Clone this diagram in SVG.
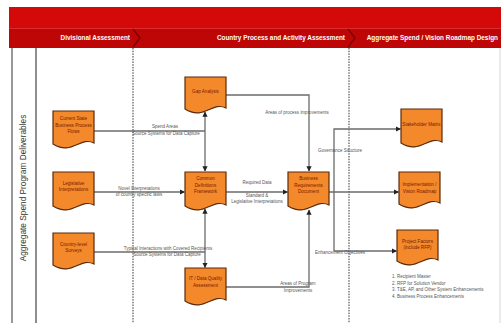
<svg xmlns="http://www.w3.org/2000/svg" width="501" height="323" viewBox="0 0 501 323">
<style>
.doc{fill:#F3892B;stroke:#5A2A0A;stroke-width:1.2}
.nt{font-family:"Liberation Sans",Arial,sans-serif;font-size:4.6px;fill:#7A1A00;text-anchor:middle}
.lb{font-family:"Liberation Sans",Arial,sans-serif;font-size:4.5px;fill:#555;text-anchor:middle}
.ls{font-family:"Liberation Sans",Arial,sans-serif;font-size:4.5px;fill:#555}
.hd{font-family:"Liberation Sans",Arial,sans-serif;font-size:6.4px;font-weight:bold;fill:#fff}
.cn{fill:none;stroke:#6b6b6b;stroke-width:1.3}
.dot{stroke:#333;stroke-width:1;stroke-dasharray:1.5 1.2}
</style>
<defs>
<marker id="ah" viewBox="0 0 10 10" refX="9" refY="5" markerWidth="4" markerHeight="4" orient="auto-start-reverse">
<path d="M0,0 L10,5 L0,10 z" fill="#222"/>
</marker>
</defs>
<rect width="501" height="323" fill="#fff"/>
<g id="header">
<rect x="9" y="7" width="492" height="21" fill="#D40A0A"/>
<rect x="9" y="28" width="492" height="20" fill="#BE0606"/>
<line x1="9" y1="28.5" x2="501" y2="28.5" stroke="#E23A3A" stroke-width="0.8"/>
<polyline points="133,29 140,38 133,47" fill="none" stroke="#7E0000" stroke-width="1.4"/>
<polyline points="348,29 355,38 348,47" fill="none" stroke="#7E0000" stroke-width="1.4"/>
<text class="hd" x="130" y="40" text-anchor="end">Divisional Assessment</text>
<text class="hd" x="345" y="40" text-anchor="end">Country Process and Activity Assessment</text>
<text class="hd" x="498" y="40" text-anchor="end">Aggregate Spend / Vision Roadmap Design</text>
</g>
<g id="frame">
<line x1="12" y1="48" x2="12" y2="323" stroke="#333" stroke-width="1"/>
<line x1="36" y1="48" x2="36" y2="323" stroke="#444" stroke-width="1.2"/>
<line x1="500" y1="48" x2="500" y2="323" stroke="#ccc" stroke-width="0.8"/>
<line class="dot" x1="133" y1="48" x2="133" y2="323"/>
<line class="dot" x1="349" y1="48" x2="349" y2="323"/>
<text x="26" y="188" transform="rotate(-90 26 188)" font-family="Liberation Sans,Arial,sans-serif" font-size="8.3" fill="#333" text-anchor="middle">Aggregate Spend Program Deliverables</text>
</g>
<g id="connectors">
<polyline class="cn" points="94,131 205,131"/>
<line class="cn" x1="94" y1="192" x2="184.5" y2="192" marker-end="url(#ah)"/>
<polyline class="cn" points="94,252 205,252"/>
<line class="cn" x1="205" y1="112" x2="205" y2="171" marker-start="url(#ah)" marker-end="url(#ah)"/>
<line class="cn" x1="205" y1="209" x2="205" y2="267.5" marker-start="url(#ah)" marker-end="url(#ah)"/>
<polyline class="cn" points="226,95 309,95 309,171" marker-end="url(#ah)"/>
<line class="cn" x1="226" y1="192" x2="287.5" y2="192" marker-end="url(#ah)"/>
<polyline class="cn" points="226,287 309,287 309,210" marker-end="url(#ah)"/>
<line class="cn" x1="329" y1="192" x2="398.5" y2="192" marker-end="url(#ah)"/>
<polyline class="cn" points="334,251 334,129 400.5,129" marker-end="url(#ah)"/>
<line class="cn" x1="334" y1="251" x2="396.5" y2="251" marker-end="url(#ah)"/>
<text class="lb" x="165" y="128">Spend Areas</text>
<text class="lb" x="166" y="135">Source Systems for Data Capture</text>
<text class="lb" x="139" y="190">Novel Interpretations</text>
<text class="lb" x="139" y="196">of country specific laws</text>
<text class="lb" x="168" y="250">Typical Interactions with Covered Recipients</text>
<text class="lb" x="167" y="256">Source Systems for Data Capture</text>
<text class="lb" x="297" y="114">Areas of process improvements</text>
<text class="lb" x="257" y="184">Required Data</text>
<text class="lb" x="257" y="197">Standard &amp;</text>
<text class="lb" x="257" y="203">Legislative Interpretations</text>
<text class="lb" x="340" y="152">Governance Structure</text>
<text class="lb" x="340" y="254">Enhancement Objectives</text>
<text class="lb" x="298" y="285">Areas of Program</text>
<text class="lb" x="298" y="292">Improvements</text>
</g>
<g id="n-current">
<path class="doc" d="M53,111 h41 v32 C80,136 72,156 53,144 z"/>
<text class="nt" x="73.5" y="120">Current State</text>
<text class="nt" x="73.5" y="126.5">Business Process</text>
<text class="nt" x="73.5" y="133">Flows</text>
</g>
<g id="n-legislative">
<path class="doc" d="M53,172 h41 v33 C80,198 72,218 53,206 z"/>
<text class="nt" x="73.5" y="185">Legislative</text>
<text class="nt" x="73.5" y="191">Interpretations</text>
</g>
<g id="n-surveys">
<path class="doc" d="M53,233 h41 v31 C80,257 72,277 53,265 z"/>
<text class="nt" x="73.5" y="246">Country-level</text>
<text class="nt" x="73.5" y="252">Surveys</text>
</g>
<g id="n-gap">
<path class="doc" d="M185,77 h41 v31 C212,101 204,121 185,109 z"/>
<text class="nt" x="205.5" y="93">Gap Analysis</text>
</g>
<g id="n-cdf">
<path class="doc" d="M185,172 h41 v33 C212,198 204,218 185,206 z"/>
<text class="nt" x="205.5" y="180">Common</text>
<text class="nt" x="205.5" y="186.5">Definitions</text>
<text class="nt" x="205.5" y="193">Framework</text>
</g>
<g id="n-itdq">
<path class="doc" d="M185,268 h41 v32 C212,293 204,313 185,301 z"/>
<text class="nt" x="205.5" y="280">IT / Data Quality</text>
<text class="nt" x="205.5" y="286.5">Assessment</text>
</g>
<g id="n-brd">
<path class="doc" d="M288,172 h41 v33 C315,198 307,218 288,206 z"/>
<text class="nt" x="308.5" y="180">Business</text>
<text class="nt" x="308.5" y="186.5">Requirements</text>
<text class="nt" x="308.5" y="193">Document</text>
</g>
<g id="n-stake">
<path class="doc" d="M401,109 h41 v33 C428,135 420,155 401,143 z"/>
<text class="nt" x="421.5" y="126">Stakeholder Matrix</text>
</g>
<g id="n-impl">
<path class="doc" d="M399,172 h41 v31 C426,196 418,216 399,204 z"/>
<text class="nt" x="419.5" y="186">Implementation /</text>
<text class="nt" x="419.5" y="192.5">Vision Roadmap</text>
</g>
<g id="n-proj">
<path class="doc" d="M397,230 h41 v30 C424,253 416,273 397,261 z"/>
<text class="nt" x="417.5" y="243">Project Factors</text>
<text class="nt" x="417.5" y="249">(include RFP)</text>
</g>
<g id="list">
<text class="ls" x="392" y="278">1. Recipient Master</text>
<text class="ls" x="392" y="284.5">2. RFP for Solution Vendor</text>
<text class="ls" x="392" y="291">3. T&amp;E, AP, and Other System Enhancements</text>
<text class="ls" x="392" y="297.5">4. Business Process Enhancements</text>
</g>
</svg>
